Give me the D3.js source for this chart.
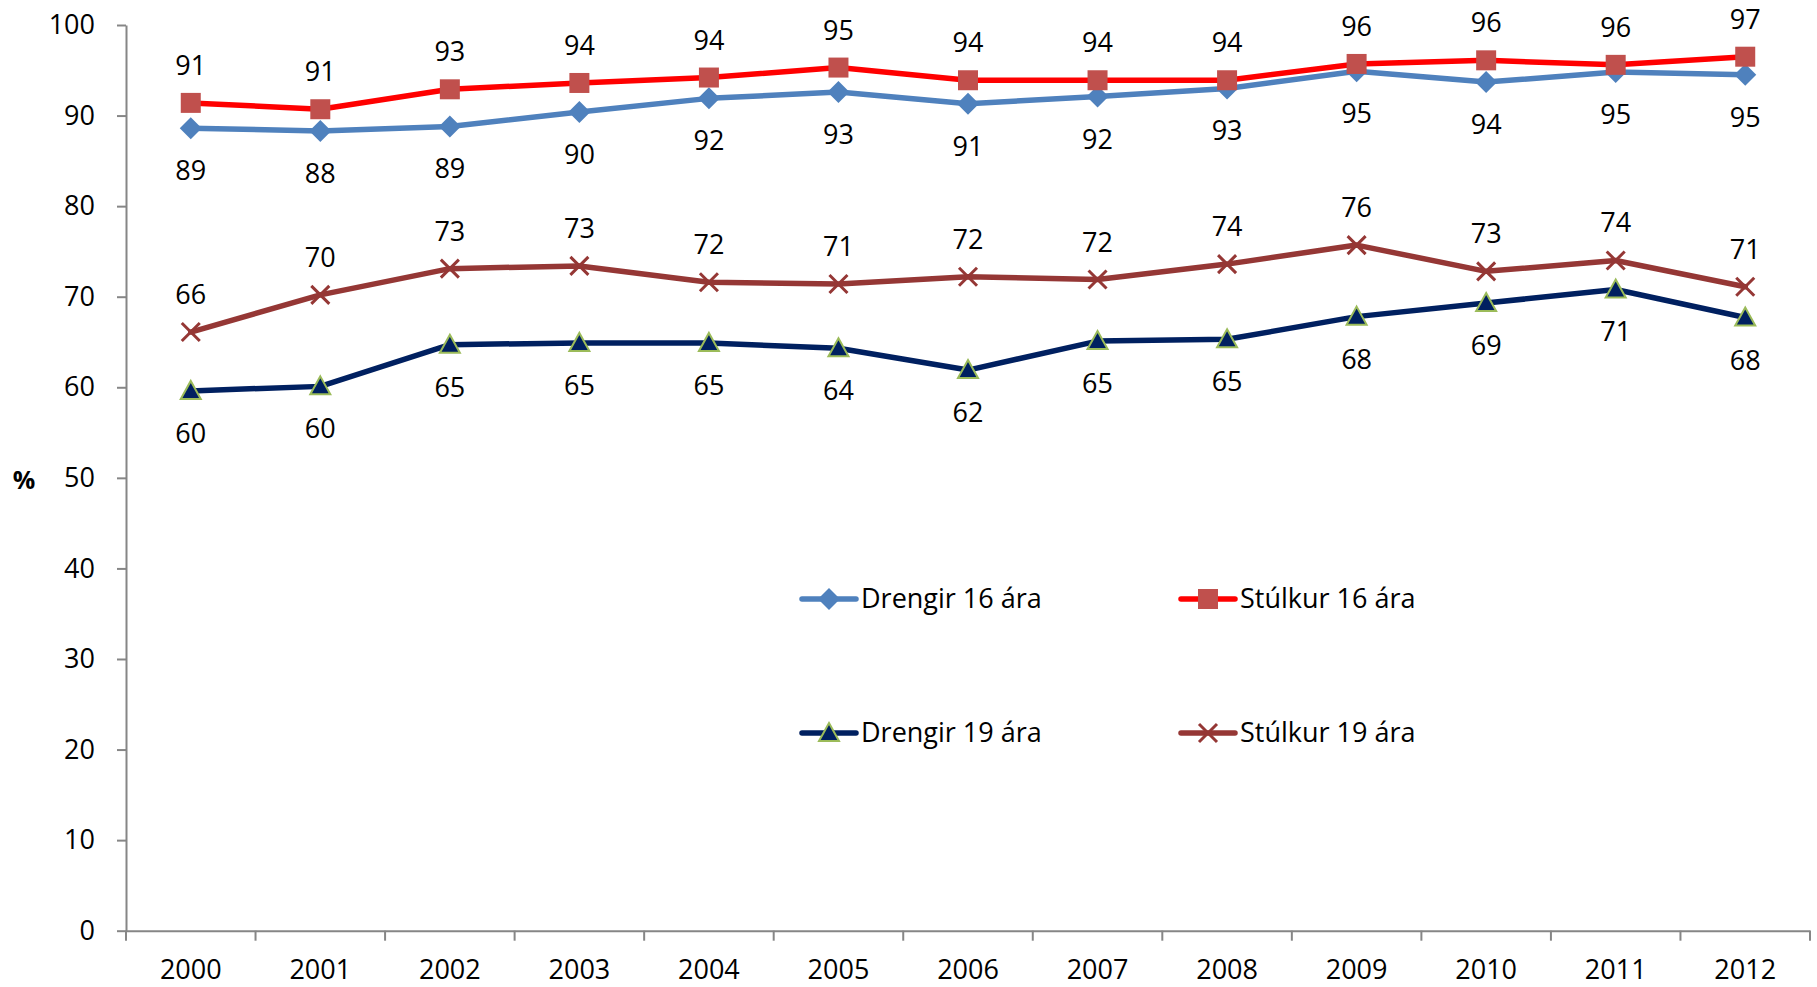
<!DOCTYPE html>
<html>
<head>
<meta charset="utf-8">
<script src="https://cdn.jsdelivr.net/npm/d3@7"></script>
<style>
  body { margin: 0; background: #fff; }
  svg text { font-family: "Open Sans", sans-serif; }
</style>
</head>
<body>
<div id="viz-container"></div>
<script>
// data
let years = ["2000","2001","2002","2003","2004","2005","2006","2007","2008","2009","2010","2011","2012"];
let drengir16 = [88.6, 88.3, 88.8, 90.4, 91.9, 92.6, 91.3, 92.1, 93.0, 94.9, 93.7, 94.8, 94.5];
let stulkur16 = [91.4, 90.7, 92.9, 93.6, 94.2, 95.3, 93.9, 93.9, 93.9, 95.7, 96.1, 95.6, 96.5];
let drengir19 = [59.6, 60.1, 64.7, 64.9, 64.9, 64.3, 61.9, 65.1, 65.3, 67.8, 69.3, 70.8, 67.7];
let stulkur19 = [66.1, 70.2, 73.1, 73.4, 71.6, 71.4, 72.2, 71.9, 73.6, 75.7, 72.8, 74.0, 71.1];
let yTicks = [0, 10, 20, 30, 40, 50, 60, 70, 80, 90, 100];

let series = [
  {name: "Drengir 16 ára", values: drengir16, line: "#4F81BD", marker: "diamond", fill: "#4F81BD", stroke: "none", labelPos: "below"},
  {name: "Stúlkur 16 ára", values: stulkur16, line: "#FF0000", marker: "square", fill: "#C0504D", stroke: "none", labelPos: "above"},
  {name: "Drengir 19 ára", values: drengir19, line: "#002060", marker: "triangle", fill: "#002060", stroke: "#9BBB59", labelPos: "below"},
  {name: "Stúlkur 19 ára", values: stulkur19, line: "#953735", marker: "cross", fill: "none", stroke: "#953735", labelPos: "above"}
];

let W = 1817, H = 987;
let fs = 27;
let viz = d3.select("#viz-container")
  .append("svg")
    .attr("width", W)
    .attr("height", H)
;

let x = d3.scaleBand().domain(years).range([126, 1810]).padding(0);
let y = d3.scaleLinear().domain([0, 100]).range([930.7, 25]);
let axisColor = "#868686";

// y axis
let yAxis = viz.append("g")
  .attr("transform", "translate(126,0)")
  .call(d3.axisLeft(y).tickValues(yTicks).tickSize(9).tickSizeOuter(0).tickPadding(22));
yAxis.select(".domain").attr("stroke", axisColor).attr("stroke-width", 2);
yAxis.selectAll(".tick line").attr("stroke", axisColor).attr("stroke-width", 2);
yAxis.selectAll(".tick text").attr("font-size", fs).attr("fill", "#000")
  .attr("font-family", "'Open Sans', sans-serif");

// x axis
let xAxis = viz.append("g")
  .attr("transform", "translate(0," + y(0) + ")")
  .call(d3.axisBottom(x).tickSize(0).tickSizeOuter(0).tickPadding(29));
xAxis.select(".domain").attr("stroke", axisColor).attr("stroke-width", 2);
xAxis.selectAll(".tick text").attr("font-size", fs).attr("fill", "#000")
  .attr("font-family", "'Open Sans', sans-serif");
// tick marks between categories
xAxis.selectAll(".boundary").data(years.concat(["end"])).enter()
  .append("line")
    .attr("x1", d => d == "end" ? x.range()[1] : x(d))
    .attr("x2", d => d == "end" ? x.range()[1] : x(d))
    .attr("y1", 0)
    .attr("y2", 10)
    .attr("stroke", axisColor)
    .attr("stroke-width", 2)
;

viz.append("text")
  .text("%")
    .attr("x", 24)
    .attr("y", 489)
    .attr("text-anchor", "middle")
    .attr("font-size", 25)
    .attr("font-weight", "bold")
;

function cx(d, i){ return x(years[i]) + x.bandwidth() / 2; }

function markerPath(type){
  if (type == "diamond") return "M0,-11L11,0L0,11L-11,0Z";
  if (type == "square") return "M-10,-10H10V10H-10Z";
  if (type == "triangle") return "M0,-10L10,8H-10Z";
  if (type == "cross") return "M-9,-9L9,9M-9,9L9,-9";
}

let line = d3.line().x(cx).y(d => y(d));

let groups = viz.selectAll(".serie").data(series).enter()
  .append("g")
    .attr("class", "serie")
;
groups.append("path")
  .attr("d", d => line(d.values))
  .attr("fill", "none")
  .attr("stroke", d => d.line)
  .attr("stroke-width", 5.5)
  .attr("stroke-linejoin", "round")
  .attr("stroke-linecap", "round")
;
groups.each(function(s){
  let g = d3.select(this);
  g.selectAll(".mark").data(s.values).enter()
    .append("path")
      .attr("d", markerPath(s.marker))
      .attr("transform", (d, i) => "translate(" + cx(d, i) + "," + y(d) + ")")
      .attr("fill", s.fill)
      .attr("stroke", s.stroke)
      .attr("stroke-width", s.marker == "cross" ? 3 : 2)
  ;
  g.selectAll(".lbl").data(s.values).enter()
    .append("text")
      .text(d => Math.round(d))
      .attr("x", cx)
      .attr("y", d => s.labelPos == "above" ? y(d) - 28 : y(d) + 52)
      .attr("text-anchor", "middle")
      .attr("font-size", fs)
      .attr("fill", "#000")
  ;
});

// legend
let legendPos = [[802, 599], [1181, 599], [802, 733], [1181, 733]];
let legend = viz.selectAll(".legend").data(series).enter()
  .append("g")
    .attr("class", "legend")
    .attr("transform", (d, i) => "translate(" + legendPos[i][0] + "," + legendPos[i][1] + ")")
;
legend.append("line")
  .attr("x1", 0).attr("x2", 54).attr("y1", 0).attr("y2", 0)
  .attr("stroke", d => d.line)
  .attr("stroke-width", 5.5)
  .attr("stroke-linecap", "round")
;
legend.append("path")
  .attr("d", d => markerPath(d.marker))
  .attr("transform", "translate(27,0)")
  .attr("fill", d => d.fill)
  .attr("stroke", d => d.stroke)
  .attr("stroke-width", d => d.marker == "cross" ? 3 : 2)
;
legend.append("text")
  .text(d => d.name)
  .attr("x", 59)
  .attr("y", 9)
  .attr("font-size", fs)
  .attr("fill", "#000")
;
</script>
</body>
</html>
